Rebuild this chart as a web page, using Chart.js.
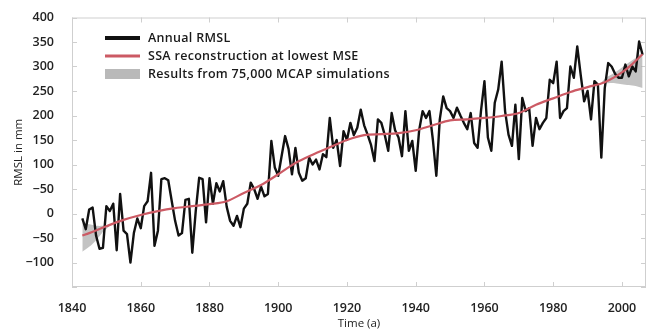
<!DOCTYPE html>
<html><head><meta charset="utf-8">
<script src="https://cdn.jsdelivr.net/npm/chart.js@4.4.1/dist/chart.umd.min.js"></script>
<style>html,body{margin:0;padding:0;background:#fff}#wrap{width:654px;height:333px}</style>
</head><body><div id="wrap"><canvas id="c" width="654" height="333"></canvas></div>
<script>
const firstYear = 1843;
const annualRMSL = [-10,-32,8,12,-45,-72,-70,15,5,20,-75,40,-35,-42,-100,-40,-10,
 -30,15,25,83,-66,-35,70,72,68,26,-15,-45,-40,28,30,-80,5,73,70,-18,
 72,20,62,45,66,14,-15,-25,-5,-28,10,20,63,50,30,55,35,40,148,94,
 77,118,158,132,80,134,83,67,72,114,100,110,90,121,115,195,134,150,97,168,
 150,185,160,175,212,180,161,140,107,192,185,160,128,205,170,155,117,209,128,148,
 87,170,209,195,209,150,77,192,239,215,209,195,216,200,185,172,205,144,134,210,
 270,155,128,226,253,310,209,161,138,222,111,236,209,215,138,195,172,185,195,273,
 266,310,195,209,215,300,277,341,283,229,250,192,270,263,114,256,307,300,285,277,
 277,304,280,300,290,351,324];
const ssaYears  = [1843,1845,1850,1855,1860,1865,1870,1875,1880,1885,1890,1895,1900,1905,1910,1915,1920,1925,1930,1935,1940,1945,1950,1955,1960,1965,1970,1975,1980,1985,1990,1995,2000,2003,2006];
const ssaValues = [-45,-40,-26,-13,-3,5,11,15,19,25,42,58,80,103,120,135,150,160,162,164,170,180,190,192,195,199,205,222,235,248,258,268,288,305,325];
const bandLeftYears  = [1843,1845,1847,1849,1851];
const bandLeftLow    = [-78,-68,-55,-38,-25];
const bandLeftHigh   = [-20,-22,-25,-25,-22];
const bandRightYears = [1994,1996,1998,2000,2002,2004,2006];
const bandRightLow   = [266,266,266,264,262,260,256];
const bandRightHigh  = [268,280,288,298,308,318,330];
const xTickValues = [1840,1860,1880,1900,1920,1940,1960,1980,2000];
const yTickValues = [400,350,300,250,200,150,100,50,0,-50,-100,-150];
const yTickLabels = ['400','350','300','250','200','150','100','\u221250','0','\u221250','\u2212100',''];
const legendLabels = ['Annual RMSL','SSA reconstruction at lowest MSE','Results from 75,000 MCAP simulations'];

const years = annualRMSL.map((_, i) => firstYear + i);
const pts = (xs, ys) => xs.map((x, i) => ({x, y: ys[i]}));

const FONT = '"Open Sans", "DejaVu Sans", sans-serif';
const frameColor = '#cfcfcf';

const framePlugin = {
  id: 'frame',
  beforeDatasetsDraw(chart) {
    const {ctx, chartArea: a, scales} = chart;
    ctx.save();
    ctx.strokeStyle = frameColor;
    ctx.lineWidth = 1;
    ctx.strokeRect(a.left + 0.5, a.top + 0.5, a.right - a.left - 1, a.bottom - a.top - 1);
    const L = 5;
    ctx.beginPath();
    yTickValues.forEach(v => {
      const y = Math.round(scales.y.getPixelForValue(v)) + 0.5;
      ctx.moveTo(a.left, y); ctx.lineTo(a.left + L, y);
      ctx.moveTo(a.right, y); ctx.lineTo(a.right - L, y);
    });
    xTickValues.forEach(v => {
      const x = Math.round(scales.x.getPixelForValue(v)) + 0.5;
      ctx.moveTo(x, a.bottom); ctx.lineTo(x, a.bottom - L);
      ctx.moveTo(x, a.top); ctx.lineTo(x, a.top + L);
    });
    ctx.stroke();
    ctx.restore();
  },
  afterDraw(chart) {
    const ctx = chart.ctx;
    ctx.save();
    const x0 = 105, x1 = 140, tx = 148, ys = [38, 56, 74];
    ctx.lineCap = 'butt';
    ctx.strokeStyle = '#111'; ctx.lineWidth = 4;
    ctx.beginPath(); ctx.moveTo(x0, ys[0]); ctx.lineTo(x1, ys[0]); ctx.stroke();
    ctx.strokeStyle = '#cc5a64'; ctx.lineWidth = 3;
    ctx.beginPath(); ctx.moveTo(x0, ys[1]); ctx.lineTo(x1, ys[1]); ctx.stroke();
    ctx.fillStyle = '#b9b9b9';
    ctx.fillRect(x0, ys[2] - 5, x1 - x0, 10);
    ctx.fillStyle = '#1a1a1a';
    ctx.font = '600 12.5px ' + FONT;
    try { ctx.letterSpacing = '0.3px'; } catch (e) {}
    ctx.textBaseline = 'middle';
    legendLabels.forEach((t, i) => ctx.fillText(t, tx, ys[i]));
    ctx.restore();
  }
};

new Chart(document.getElementById('c'), {
  type: 'line',
  data: {
    datasets: [
      {label: legendLabels[1], data: pts(ssaYears, ssaValues), borderColor: '#cc5a64', borderWidth: 2.2,
       pointRadius: 0, tension: 0.4, cubicInterpolationMode: 'monotone', fill: false, order: 0},
      {label: legendLabels[0], data: pts(years, annualRMSL), borderColor: '#111', borderWidth: 2.4,
       pointRadius: 0, tension: 0, fill: false, order: 1, borderJoinStyle: 'round'},
      {label: 'bandLL', data: pts(bandLeftYears, bandLeftLow), borderWidth: 0, pointRadius: 0, fill: false, order: 2, tension: 0.3},
      {label: 'bandLH', data: pts(bandLeftYears, bandLeftHigh), borderWidth: 0, pointRadius: 0, fill: '-1',
       backgroundColor: 'rgba(175,175,175,0.75)', order: 2, tension: 0.3},
      {label: 'bandRL', data: pts(bandRightYears, bandRightLow), borderWidth: 0, pointRadius: 0, fill: false, order: 3, tension: 0.3},
      {label: 'bandRH', data: pts(bandRightYears, bandRightHigh), borderWidth: 0, pointRadius: 0, fill: '-1',
       backgroundColor: 'rgba(175,175,175,0.75)', order: 3, tension: 0.3}
    ]
  },
  options: {
    responsive: false,
    animation: false,
    layout: {padding: {left: 0, right: 8, top: 14, bottom: 0}},
    plugins: {legend: {display: false}, tooltip: {enabled: false}},
    scales: {
      x: {
        type: 'linear', min: 1840, max: 2007,
        afterBuildTicks: s => { s.ticks = xTickValues.map(v => ({value: v})); },
        afterFit: s => { s.height = 46; },
        grid: {display: false}, border: {display: false},
        ticks: {padding: 6, color: '#222', font: {family: FONT, size: 12.5, weight: '600'}, maxRotation: 0,
                callback: v => String(v)},
        title: {display: true, text: 'Time (a)', color: '#222', font: {family: FONT, size: 11.5}, padding: {top: 0, bottom: 2}}
      },
      y: {
        type: 'linear', min: -150, max: 400,
        afterBuildTicks: s => { s.ticks = yTickValues.map(v => ({value: v})); },
        afterFit: s => { s.width = 72; },
        grid: {display: false}, border: {display: false},
        ticks: {padding: 10, color: '#222', font: {family: FONT, size: 12.5, weight: '600'},
                callback: (v) => yTickLabels[yTickValues.indexOf(v)]},
        title: {display: true, text: 'RMSL in mm', color: '#222', font: {family: FONT, size: 11.5}, padding: {top: 12, bottom: 0}}
      }
    }
  },
  plugins: [framePlugin]
});
</script></body></html>
